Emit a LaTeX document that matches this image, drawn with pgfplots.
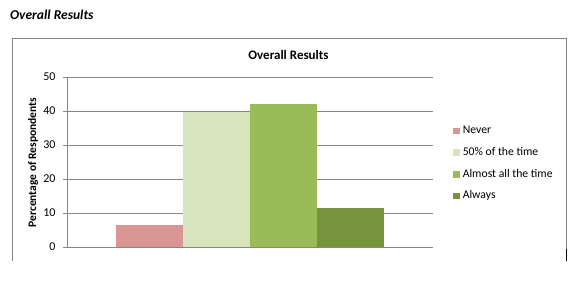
\documentclass[border=0pt]{standalone}
\usepackage{fontspec}
\setmainfont{Carlito}
\usepackage{pgfplots}
\pgfplotsset{compat=1.18}
\definecolor{gridgray}{HTML}{868686}
\definecolor{cNever}{HTML}{D99694}
\definecolor{cHalf}{HTML}{D7E4BD}
\definecolor{cAlmost}{HTML}{9BBB59}
\definecolor{cAlways}{HTML}{77933C}
\begin{document}
\begin{tikzpicture}
\path (0pt,0pt) rectangle (585pt,293pt);
\draw[gridgray, line width=1pt] (12pt,32pt) -- (12pt,254.5pt) -- (566.5pt,254.5pt) -- (566.5pt,44pt);
\draw[black, line width=1.6pt] (566.5pt,44pt) -- (566.5pt,32pt);
\node[font=\fontsize{13.5}{16}\selectfont\bfseries\itshape, anchor=west, inner sep=0pt] at (10pt,278pt) {Overall Results};
\node[font=\fontsize{13}{15}\selectfont\bfseries, inner sep=0pt] at (288.5pt,238pt) {Overall Results};
\begin{axis}[
  at={(67pt,46pt)}, anchor=south west,
  scale only axis, width=366pt, height=170pt,
  ymin=0, ymax=50, ytick={0,10,20,30,40,50},
  xmin=-1, xmax=1, xtick=\empty,
  ybar=0pt, bar width=67pt,
  axis lines*=left,
  axis line style={gridgray, line width=0.8pt, -},
  ymajorgrids,
  major grid style={gridgray, line width=0.8pt},
  tick style={gridgray, line width=0.8pt},
  tick align=outside, major tick length=4pt,
  /pgf/number format/assume math mode=true,
  yticklabel style={font=\fontsize{12}{14}\selectfont, text=black, xshift=-4pt},
  ylabel={Percentage of Respondents},
  ylabel style={font=\fontsize{11.5}{13}\selectfont\bfseries, at={(axis description cs:-0.0929,0.497)}, anchor=center},
  legend style={at={(axis description cs:1.0546,0.491)}, anchor=west, draw=none, fill=none,
    font=\fontsize{11.7}{13}\selectfont, inner sep=0pt, row sep=11.2pt,
    nodes={inner sep=0pt, text height=8pt, text depth=2.5pt},
    /tikz/every odd column/.style={column sep=3pt}},
  legend cell align=left,
  legend image code/.code={\fill[#1] (0pt,-3.3pt) rectangle (6.6pt,3.3pt);},
]
\addplot[fill=cNever, draw=none] coordinates {(0,6.6)};
\addplot[fill=cHalf, draw=none] coordinates {(0,39.6)};
\addplot[fill=cAlmost, draw=none] coordinates {(0,42.1)};
\addplot[fill=cAlways, draw=none] coordinates {(0,11.6)};
\legend{Never, 50\% of the time, Almost all the time, Always}
\end{axis}
\end{tikzpicture}
\end{document}
